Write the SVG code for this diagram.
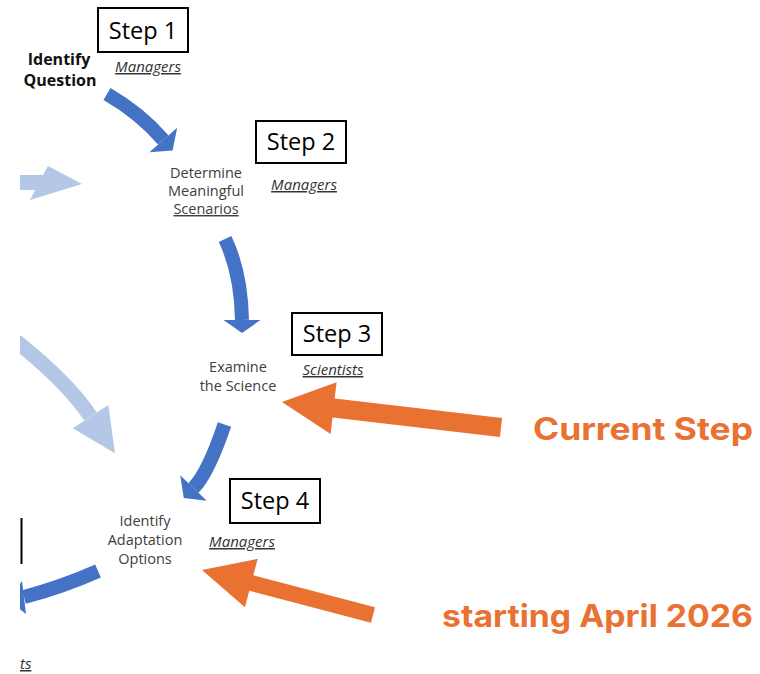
<svg xmlns="http://www.w3.org/2000/svg" width="760" height="674" viewBox="0 0 760 674">
  <defs>
    <clipPath id="page"><rect x="20" y="0" width="740" height="674"/></clipPath>
  </defs>
  <style>
    .box { fill: #ffffff; stroke: #000000; stroke-width: 2; }
    .step { font-family: "Open Sans", "Liberation Sans", sans-serif; font-size: 23.5px; fill: #000000; text-anchor: middle; }
    .role { font-family: "Open Sans", "Liberation Sans", sans-serif; font-size: 15px; font-style: italic; fill: #333333; text-anchor: middle; text-decoration: underline; }
    .label { font-family: "Open Sans", "Liberation Sans", sans-serif; font-size: 14.5px; fill: #404040; text-anchor: middle; }
    .bold { font-family: "Open Sans", "Liberation Sans", sans-serif; font-size: 16px; font-weight: bold; fill: #111111; text-anchor: middle; }
    .callout { font-family: "Inter", "Open Sans", sans-serif; font-size: 31px; font-weight: bold; fill: #E97132; }
    .dark { fill: none; stroke: #4472C4; stroke-width: 14; }
    .darkhead { fill: #4472C4; }
    .light { fill: none; stroke: #B4C7E7; stroke-width: 15; }
    .lighthead { fill: #B4C7E7; }
    .orange { fill: #E97132; }
  </style>
  <rect width="760" height="674" fill="#ffffff"/>

  <g id="connectors" clip-path="url(#page)">
    <!-- light blue incoming arrows -->
    <polygon class="lighthead" points="15,175 43,175 48,166 82,184 30,200 35,190 15,190"/>
    <path class="light" d="M16,341 Q68.5,383 90.5,416.5"/>
    <polygon class="lighthead" points="108.3,405 115,453.3 72.7,428.3"/>
    <!-- step 1 to step 2 -->
    <path class="dark" d="M107,94 Q140,113 163.3,140"/>
    <polygon class="darkhead" points="177.2,127.8 172.5,150.5 149.4,152.2"/>
    <!-- step 2 to step 3 -->
    <path class="dark" d="M225,239 Q241,272 242,320"/>
    <polygon class="darkhead" points="223.5,320 260.5,320 242,333"/>
    <!-- step 3 to step 4 -->
    <path class="dark" d="M224.5,424.5 Q208.2,472.8 193.5,488"/>
    <polygon class="darkhead" points="206.8,500.8 183.8,498 180.2,475.2"/>
    <!-- step 4 onwards -->
    <path class="dark" d="M98,571 Q62,587 24,597"/>
    <polygon class="darkhead" points="22,581 26,614 8,600"/>
    <!-- orange callout arrows -->
    <polygon class="orange" points="282,402 336.6,382.2 334.7,398.6 502.1,418.1 499.9,436.9 332.5,417.4 330.6,434"/>
    <polygon class="orange" points="202,570 257.7,558.8 253.3,575.3 375,607.3 371,622.7 249.3,590.7 244.9,607.2"/>
  </g>

  <g id="step1">
    <rect class="box" x="98" y="8" width="90" height="44"/>
    <text class="step" x="143" y="39">Step 1</text>
    <text class="role" x="148" y="72">Managers</text>
    <text class="bold" x="59" y="65">Identify</text>
    <text class="bold" x="60" y="86">Question</text>
  </g>

  <g id="step2">
    <rect class="box" x="256" y="121" width="90" height="42"/>
    <text class="step" x="301" y="150">Step 2</text>
    <text class="role" x="304" y="190">Managers</text>
    <text class="label" x="206" y="178">Determine</text>
    <text class="label" x="206" y="196">Meaningful</text>
    <text class="label" x="206" y="214" text-decoration="underline">Scenarios</text>
  </g>

  <g id="step3">
    <rect class="box" x="292" y="313" width="90" height="42"/>
    <text class="step" x="337" y="342">Step 3</text>
    <text class="role" x="333" y="375">Scientists</text>
    <text class="label" x="238" y="372">Examine</text>
    <text class="label" x="238" y="391">the Science</text>
  </g>

  <g id="step4">
    <rect class="box" x="230" y="479" width="90" height="44"/>
    <text class="step" x="275" y="509">Step 4</text>
    <text class="role" x="242" y="547">Managers</text>
    <text class="label" x="145" y="526">Identify</text>
    <text class="label" x="145" y="545">Adaptation</text>
    <text class="label" x="145" y="564">Options</text>
  </g>

  <g id="offpage-left">
    <line x1="21.5" y1="518" x2="21.5" y2="564" stroke="#000000" stroke-width="2"/>
    <text class="role" x="20" y="669" style="text-anchor:start">ts</text>
  </g>

  <g id="current-step">
    <text class="callout" x="533" y="440" textLength="220" lengthAdjust="spacingAndGlyphs">Current Step</text>
  </g>

  <g id="starting-april">
    <text class="callout" x="442" y="627" textLength="311" lengthAdjust="spacingAndGlyphs">starting April 2026</text>
  </g>
</svg>
